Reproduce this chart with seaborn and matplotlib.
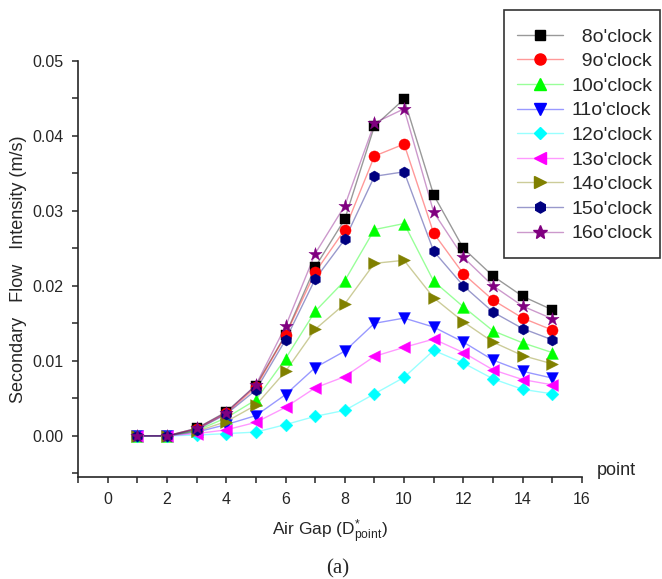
import numpy as np
import pandas as pd
import seaborn as sns
import matplotlib
matplotlib.use("Agg")
import matplotlib.pyplot as plt
from matplotlib.lines import Line2D
from matplotlib.patches import Rectangle
from matplotlib.ticker import MultipleLocator, FormatStrFormatter

# ---------------- data ----------------
points = [1, 2, 3, 4, 5, 6, 7, 8, 9, 10, 11, 12, 13, 14, 15]
labels = ["  8o'clock", "  9o'clock", "10o'clock", "11o'clock", "12o'clock",
          "13o'clock", "14o'clock", "15o'clock", "16o'clock"]
h8 = [0, 0, 0.0010, 0.0032, 0.0067, 0.0135, 0.0225, 0.0289, 0.0413, 0.0449, 0.0321, 0.0250, 0.0213, 0.0186, 0.0168]
h9 = [0, 0, 0.0009, 0.0030, 0.0065, 0.0134, 0.0218, 0.0275, 0.0373, 0.0389, 0.0270, 0.0216, 0.0181, 0.0157, 0.0141]
h10 = [0, 0, 0.0007, 0.0024, 0.0048, 0.0103, 0.0166, 0.0207, 0.0275, 0.0283, 0.0206, 0.0172, 0.0140, 0.0124, 0.0111]
h11 = [0, 0, 0.0005, 0.0015, 0.0027, 0.0055, 0.0091, 0.0113, 0.0150, 0.0157, 0.0145, 0.0125, 0.0101, 0.0086, 0.0077]
h12 = [0, 0, 0.0001, 0.0003, 0.0005, 0.0015, 0.0026, 0.0034, 0.0056, 0.0078, 0.0114, 0.0097, 0.0076, 0.0062, 0.0056]
h13 = [0, 0, 0.0003, 0.0008, 0.0018, 0.0038, 0.0064, 0.0079, 0.0106, 0.0118, 0.0129, 0.0111, 0.0088, 0.0075, 0.0068]
h14 = [0, 0, 0.0006, 0.0019, 0.0041, 0.0086, 0.0142, 0.0176, 0.0230, 0.0234, 0.0184, 0.0152, 0.0125, 0.0107, 0.0096]
h15 = [0, 0, 0.0008, 0.0029, 0.0061, 0.0128, 0.0209, 0.0262, 0.0346, 0.0352, 0.0246, 0.0200, 0.0165, 0.0143, 0.0128]
h16 = [0, 0, 0.0010, 0.0031, 0.0068, 0.0146, 0.0243, 0.0307, 0.0417, 0.0436, 0.0298, 0.0238, 0.0200, 0.0173, 0.0156]
series = [h8, h9, h10, h11, h12, h13, h14, h15, h16]

colors = ["#000000", "#ff0000", "#00ff00", "#0000ff", "#00ffff",
          "#ff00ff", "#808000", "#000080", "#800080"]
markers = ["s", "o", "^", "v", "D", "<", ">", "h", "*"]
msizes = [7, 8, 8.5, 8.5, 6.5, 8.5, 8.5, 8, 10]

# ---------------- style ----------------
sns.set_style("ticks")
plt.rcParams["font.family"] = ["Liberation Sans", "DejaVu Sans"]
plt.rcParams["mathtext.default"] = "regular"

W, H = 662, 579
fig = plt.figure(figsize=(W / 100, H / 100), dpi=100)
ax = fig.add_axes([0.118, 0.176, 0.761, 0.719])

for vals, c, m, ms in zip(series, colors, markers, msizes):
    df = pd.DataFrame({"x": points, "y": vals})
    sns.lineplot(data=df, x="x", y="y", color=c, alpha=0.4, linewidth=1.0, ax=ax)
    sns.scatterplot(data=df, x="x", y="y", color=c, marker=m, s=ms ** 2,
                    edgecolor=c, linewidth=0.3, ax=ax, zorder=3)

ax.set_xlim(-1, 16)
ax.xaxis.set_major_locator(MultipleLocator(2))
ax.xaxis.set_minor_locator(MultipleLocator(1))
ax.yaxis.set_minor_locator(MultipleLocator(0.005))
ax.yaxis.set_major_formatter(FormatStrFormatter("%.2f"))
ax.set_yticks([0, 0.01, 0.02, 0.03, 0.04, 0.05])
ax.set_ylim(-0.0055, 0.05)
ax.tick_params(axis="both", which="major", direction="out", length=4.5, width=1.1,
               labelsize=11.5, pad=6)
ax.tick_params(axis="both", which="minor", direction="out", length=4.5, width=1.1)
for s in ["top", "right"]:
    ax.spines[s].set_visible(False)
for s in ["left", "bottom"]:
    ax.spines[s].set_linewidth(1.2)

ax.set_xlabel("Air Gap (D$^{*}_{point}$)", fontsize=12.5, labelpad=8)
ax.set_ylabel("Secondary   Flow   Intensity (m/s)", fontsize=13, labelpad=4)

fig.text(0.902, 0.188, "point", fontsize=13, ha="left", va="center")
fig.text(0.51, 0.018, "(a)", fontsize=15, ha="center", va="center",
         family=["Liberation Serif", "DejaVu Serif"])

# legend frame drawn separately for exact padding
frame = Rectangle((504 / W, 1 - 258 / H), 156 / W, 248 / H, transform=fig.transFigure,
                  facecolor="white", edgecolor="#333333", linewidth=1.2, zorder=4)
fig.patches.append(frame)

handles = []
for c, m, ms in zip(colors, markers, msizes):
    h = Line2D([0], [0], color=matplotlib.colors.to_rgba(c, 0.4), linewidth=1.0,
               marker=m, markersize=ms, markerfacecolor=c, markeredgecolor=c)
    handles.append(h)
leg = fig.legend(handles, labels, loc="upper left", bbox_to_anchor=(517 / W, 1 - 28 / H),
                 fontsize=14, frameon=False, borderpad=0, labelspacing=0.36,
                 handlelength=2.37, handletextpad=0.41, borderaxespad=0)
leg.set_zorder(5)

fig.savefig("out.png", dpi=100)
